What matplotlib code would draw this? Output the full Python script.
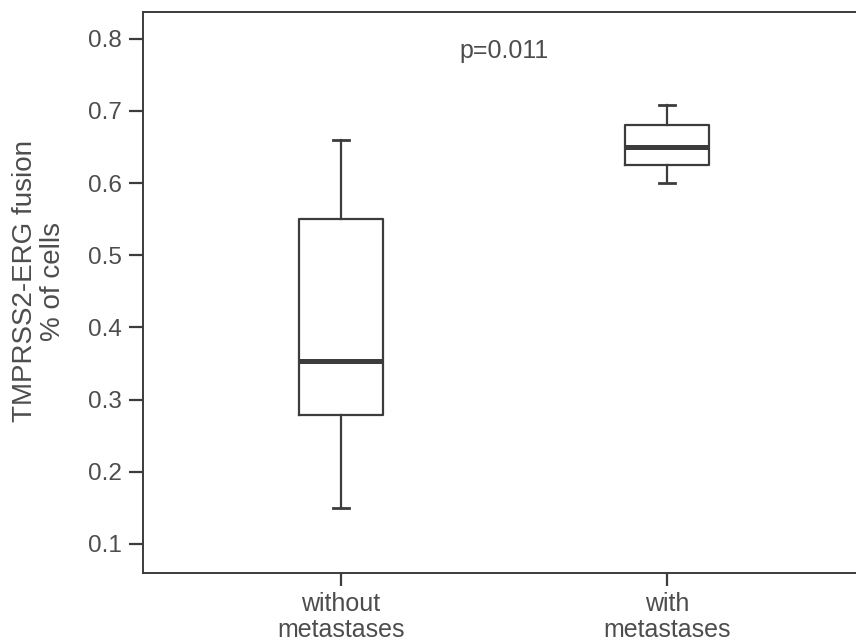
import matplotlib
matplotlib.use("Agg")
import matplotlib.pyplot as plt

# values
groups = ["without\nmetastases", "with\nmetastases"]
whislo = [0.150, 0.600]
q1 = [0.278, 0.625]
med = [0.354, 0.650]
q3 = [0.550, 0.680]
whishi = [0.660, 0.708]
p_text = "p=0.011"

plt.rcParams["font.family"] = ["Liberation Sans", "DejaVu Sans"]
dark = "#3c3c3c"
txt = "#4d4d4d"

fig = plt.figure(figsize=(8.56, 6.42), dpi=100)
ax = fig.add_axes([143 / 856, 1 - 573 / 642, 1 - 143 / 856, (573 - 12) / 642])

stats = []
for i in range(len(groups)):
    stats.append(dict(whislo=whislo[i], q1=q1[i], med=med[i], q3=q3[i],
                      whishi=whishi[i], fliers=[], label=groups[i]))

ax.bxp(stats, positions=[1, 2], widths=0.26, showfliers=False,
       boxprops=dict(color=dark, linewidth=1.6),
       whiskerprops=dict(color=dark, linewidth=1.6),
       capprops=dict(color=dark, linewidth=2.0),
       medianprops=dict(color=dark, linewidth=3.6, solid_capstyle="butt"),
       capwidths=0.05)

ax.set_xlim(1 - 198 / 326, 2 + (856 - 667) / 326)
ax.set_ylim(0.0598, 0.837)
ax.set_yticks([0.1, 0.2, 0.3, 0.4, 0.5, 0.6, 0.7, 0.8])
ax.set_yticklabels(["0.1", "0.2", "0.3", "0.4", "0.5", "0.6", "0.7", "0.8"])

ax.spines["right"].set_visible(False)
for s in ["left", "top", "bottom"]:
    ax.spines[s].set_color(dark)
    ax.spines[s].set_linewidth(1.4)

ax.tick_params(axis="y", length=10, width=1.6, color=dark, labelsize=17.5,
               labelcolor=txt, pad=5)
ax.tick_params(axis="x", length=9, width=1.6, color=dark, labelsize=18,
               labelcolor=txt, pad=5)
for lab in ax.get_xticklabels():
    lab.set_linespacing(1.1)

ax.set_ylabel("TMPRSS2-ERG fusion\n% of cells", fontsize=20, color=txt,
              linespacing=1.1, labelpad=16)
ax.yaxis.label.set_y(0.52)

ax.text(1.5, 0.783, p_text, ha="center", va="center", fontsize=18, color=txt)

fig.savefig("out.png", dpi=100)
